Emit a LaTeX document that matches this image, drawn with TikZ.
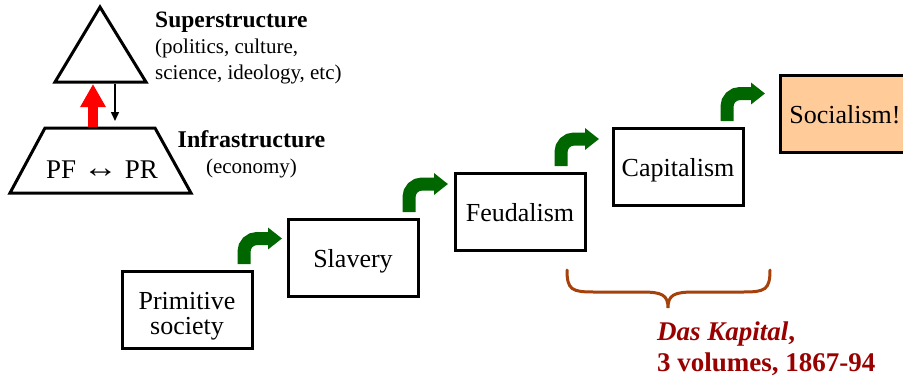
\documentclass[tikz,border=0pt]{standalone}
\usepackage{fontspec}
\setmainfont{Liberation Serif}
\usetikzlibrary{arrows.meta}

\definecolor{stepgreen}{RGB}{0,102,0}
\definecolor{bracebrown}{RGB}{165,65,10}
\definecolor{notered}{RGB}{153,0,0}
\definecolor{peach}{RGB}{255,204,153}

\begin{document}
\begin{tikzpicture}[x=1pt,y=-1pt,
  stage/.style={draw=black, line width=3pt, minimum width=130pt, minimum height=77pt,
    inner sep=0pt, font=\fontsize{26}{26}\selectfont, text height=19pt, text depth=0pt},
  stepup/.style={draw=stepgreen, line width=13pt, rounded corners=13pt,
    -{Triangle[length=14pt,width=21pt]}},
  outline/.style={draw=black, line width=3pt, line join=miter},
  caption/.style={inner sep=0pt, font=\fontsize{21}{26}\selectfont},
]
\useasboundingbox (0,0) rectangle (903,381);
\clip (0,0) rectangle (903,381);

% base and superstructure
\coordinate (apex) at (100,7);
\coordinate (triR) at (146,82);
\coordinate (triL) at (55,82);
\draw[outline] (apex) -- (triR) -- (triL) -- cycle;

\coordinate (trapTL) at (45,128);
\coordinate (trapTR) at (155,128);
\coordinate (trapBR) at (191,193);
\coordinate (trapBL) at (10,193);
\draw[outline] (trapTL) -- (trapTR) -- (trapBR) -- (trapBL) -- cycle;

\node[inner sep=0pt, font=\fontsize{27}{27}\selectfont, anchor=base] (pfpr) at (102,178)
  {PF \raisebox{1pt}{\scalebox{1.3}[1.1]{↔}} PR};

\coordinate (redfrom) at (93,127);
\coordinate (redto) at (93,84);
\draw[red, line width=10pt, -{Triangle[length=23pt,width=24pt]}] (redfrom) -- (redto);

\coordinate (backfrom) at (115,84);
\coordinate (backto) at (115,121);
\draw[black, line width=1.5pt, -{Triangle[length=9pt,width=8pt]}] (backfrom) -- (backto);

% multi-line captions are placed by the baseline of their last line
\node[caption, anchor=base west, align=left] (super) at (155,79)
  {{\fontsize{23.5}{26}\selectfont\bfseries Superstructure}\\(politics, culture,\\science, ideology, etc)};
\node[caption, anchor=base, align=center] (infra) at (251.5,173)
  {{\fontsize{24}{26}\selectfont\bfseries Infrastructure}\\(economy)};

% stages of history
\node[stage] (prim) at (187,309.5) {};
\node[inner sep=0pt, font=\fontsize{26}{25}\selectfont, align=center, anchor=base] (primtext) at (187,334)
  {Primitive\\society};
\node[stage] (slav) at (353,257.5) {Slavery};
\node[stage] (feud) at (520,211.5) {Feudalism};
\node[stage] (capi) at (678,166.5) {Capitalism};
\node[stage, fill=peach] (soci) at (845,113.5) {Socialism!};

% green step arrows
\coordinate (g1a) at (244,264); \coordinate (g1b) at (282,238.5);
\coordinate (g2a) at (409,212); \coordinate (g2b) at (448,184);
\coordinate (g3a) at (561,166); \coordinate (g3b) at (599,139);
\coordinate (g4a) at (727,121); \coordinate (g4b) at (765,93.5);
\draw[stepup] (g1a) |- (g1b);
\draw[stepup] (g2a) |- (g2b);
\draw[stepup] (g3a) |- (g3b);
\draw[stepup] (g4a) |- (g4b);

% brace under feudalism/capitalism
\draw[bracebrown, line width=3pt, line cap=round]
  (567,270) .. controls (567,290) and (572,292) .. (594,292)
  -- (642,292) .. controls (662,292) and (668,295) .. (668,308)
  .. controls (668,295) and (674,292) .. (694,292)
  -- (743,292) .. controls (765,292) and (770,290) .. (770,270);

\node[inner sep=0pt, anchor=base west, align=left, text=notered,
  font=\fontsize{27}{31}\selectfont\bfseries] (kapital) at (657,371)
  {\textit{Das Kapital},\\3 volumes, 1867-94};
\end{tikzpicture}
\end{document}
